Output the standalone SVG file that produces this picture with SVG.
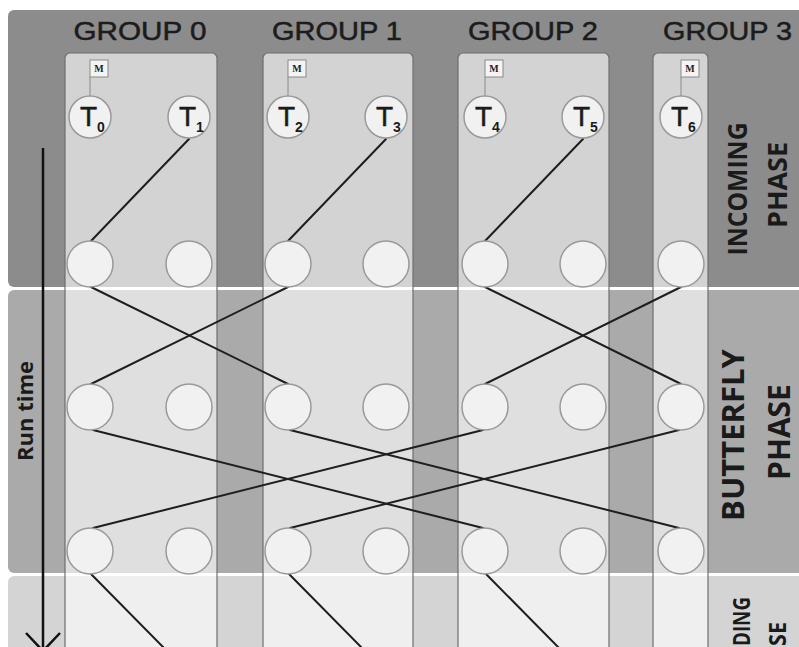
<svg xmlns="http://www.w3.org/2000/svg" width="799" height="647" viewBox="0 0 799 647">
<defs>
<style>
.gbox{fill:#ffffff;fill-opacity:0.62;stroke:#6e6e6e;stroke-width:1.2}
.ghead{font-family:"Liberation Sans",Arial,sans-serif;font-size:25px;fill:#1c1c1c;stroke:#1c1c1c;stroke-width:0.5;text-anchor:middle}
.node{fill:#f1f1f1;stroke:#9a9a9a;stroke-width:1.5}
.tl{font-family:"Liberation Sans",Arial,sans-serif;font-size:28px;fill:#1a1a1a;stroke:#1a1a1a;stroke-width:0.5}
.sub{font-family:"Liberation Sans",Arial,sans-serif;font-size:14px;font-weight:bold;fill:#1a1a1a}
.mbox{fill:#f4f4f4;stroke:#8a8a8a;stroke-width:1}
.mline{stroke:#8a8a8a;stroke-width:1}
.mtxt{font-family:"Liberation Serif",serif;font-size:10px;font-weight:bold;fill:#222;text-anchor:middle}
.edge{stroke:#1e1e1e;stroke-width:2;fill:none;stroke-linecap:round}
.phase{font-family:"Open Sans",sans-serif;font-weight:700;fill:#1a1a1a;text-anchor:middle}
</style>
</defs>
<rect width="799" height="647" fill="#ffffff"/>
<g id="bands">
<rect x="8" y="10" width="820" height="277" rx="6" fill="#8c8c8c"/>
<rect x="8" y="290" width="820" height="283" rx="6" fill="#aaaaaa"/>
<rect x="8" y="576" width="820" height="100" rx="6" fill="#d4d4d4"/>
</g>
<g id="group0">
<rect class="gbox" x="65" y="53" width="152" height="620" rx="5"/>
<text class="ghead" x="140" y="40" textLength="133" lengthAdjust="spacingAndGlyphs">GROUP 0</text>
</g>
<g id="group1">
<rect class="gbox" x="263" y="53" width="150" height="620" rx="5"/>
<text class="ghead" x="337" y="40" textLength="130" lengthAdjust="spacingAndGlyphs">GROUP 1</text>
</g>
<g id="group2">
<rect class="gbox" x="458" y="53" width="151" height="620" rx="5"/>
<text class="ghead" x="533" y="40" textLength="130" lengthAdjust="spacingAndGlyphs">GROUP 2</text>
</g>
<g id="group3">
<rect class="gbox" x="653" y="53" width="55" height="620" rx="5"/>
<text class="ghead" x="727.5" y="40" textLength="129" lengthAdjust="spacingAndGlyphs">GROUP 3</text>
</g>
<g id="labels">
<text class="phase" font-size="26" textLength="133" lengthAdjust="spacingAndGlyphs" transform="translate(747,189) rotate(-90)">INCOMING</text>
<text class="phase" font-size="26" textLength="86" lengthAdjust="spacingAndGlyphs" transform="translate(787,185) rotate(-90)">PHASE</text>
<text class="phase" font-size="31" transform="translate(744,435) rotate(-90)">BUTTERFLY</text>
<text class="phase" font-size="30" transform="translate(790,432) rotate(-90)">PHASE</text>
<text class="phase" font-size="24" textLength="49" lengthAdjust="spacingAndGlyphs" transform="translate(750,621.5) rotate(-90)">DING</text>
<text class="phase" font-size="24" textLength="24" lengthAdjust="spacingAndGlyphs" transform="translate(786,634) rotate(-90)">SE</text>
<text class="phase" font-size="22" transform="translate(33,411) rotate(-90)">Run time</text>
</g>
<g id="runtime-arrow">
<line x1="43" y1="148" x2="43" y2="650" stroke="#111" stroke-width="2.5"/>
<polyline points="26,633 43,651 60,633" fill="none" stroke="#111" stroke-width="2.5"/>
</g>
<g id="connectors">
<line class="edge" x1="189" y1="139" x2="91" y2="241"/>
<line class="edge" x1="386" y1="139" x2="288" y2="241"/>
<line class="edge" x1="583" y1="139" x2="485" y2="241"/>
<line class="edge" x1="91" y1="287" x2="288" y2="384"/>
<line class="edge" x1="288" y1="287" x2="91" y2="384"/>
<line class="edge" x1="485" y1="287" x2="681" y2="384"/>
<line class="edge" x1="681" y1="287" x2="485" y2="384"/>
<line class="edge" x1="93" y1="430" x2="483" y2="528"/>
<line class="edge" x1="290" y1="430" x2="679" y2="528"/>
<line class="edge" x1="483" y1="430" x2="93" y2="528"/>
<line class="edge" x1="679" y1="430" x2="290" y2="528"/>
<line class="edge" x1="91" y1="574" x2="166" y2="650"/>
<line class="edge" x1="289" y1="574" x2="364" y2="650"/>
<line class="edge" x1="486" y1="574" x2="561" y2="650"/>
</g>
<g id="T0"><line class="mline" x1="90" y1="77" x2="90" y2="96"/><rect class="mbox" x="90" y="60" width="18" height="17"/><text class="mtxt" x="99" y="72">M</text><circle class="node" cx="90" cy="117" r="21"/><text class="tl" x="80" y="126">T</text><text class="sub" x="97" y="132">0</text></g>
<g id="T1"><circle class="node" cx="189" cy="117" r="21"/><text class="tl" x="179" y="126">T</text><text class="sub" x="196" y="132">1</text></g>
<g id="T2"><line class="mline" x1="288" y1="77" x2="288" y2="96"/><rect class="mbox" x="288" y="60" width="18" height="17"/><text class="mtxt" x="297" y="72">M</text><circle class="node" cx="288" cy="117" r="21"/><text class="tl" x="278" y="126">T</text><text class="sub" x="295" y="132">2</text></g>
<g id="T3"><circle class="node" cx="386" cy="117" r="21"/><text class="tl" x="376" y="126">T</text><text class="sub" x="393" y="132">3</text></g>
<g id="T4"><line class="mline" x1="485" y1="77" x2="485" y2="96"/><rect class="mbox" x="485" y="60" width="18" height="17"/><text class="mtxt" x="494" y="72">M</text><circle class="node" cx="485" cy="117" r="21"/><text class="tl" x="475" y="126">T</text><text class="sub" x="492" y="132">4</text></g>
<g id="T5"><circle class="node" cx="583" cy="117" r="21"/><text class="tl" x="573" y="126">T</text><text class="sub" x="590" y="132">5</text></g>
<g id="T6"><line class="mline" x1="681" y1="77" x2="681" y2="96"/><rect class="mbox" x="681" y="60" width="18" height="17"/><text class="mtxt" x="690" y="72">M</text><circle class="node" cx="681" cy="117" r="21"/><text class="tl" x="671" y="126">T</text><text class="sub" x="688" y="132">6</text></g>
<g id="row1">
<circle class="node" cx="90" cy="264" r="23"/><circle class="node" cx="189" cy="264" r="23"/>
<circle class="node" cx="288" cy="264" r="23"/><circle class="node" cx="386" cy="264" r="23"/>
<circle class="node" cx="485" cy="264" r="23"/><circle class="node" cx="583" cy="264" r="23"/>
<circle class="node" cx="681" cy="264" r="23"/>
</g>
<g id="row2">
<circle class="node" cx="90" cy="407" r="23"/><circle class="node" cx="189" cy="407" r="23"/>
<circle class="node" cx="288" cy="407" r="23"/><circle class="node" cx="386" cy="407" r="23"/>
<circle class="node" cx="485" cy="407" r="23"/><circle class="node" cx="583" cy="407" r="23"/>
<circle class="node" cx="681" cy="407" r="23"/>
</g>
<g id="row3">
<circle class="node" cx="90" cy="551" r="23"/><circle class="node" cx="189" cy="551" r="23"/>
<circle class="node" cx="288" cy="551" r="23"/><circle class="node" cx="386" cy="551" r="23"/>
<circle class="node" cx="485" cy="551" r="23"/><circle class="node" cx="583" cy="551" r="23"/>
<circle class="node" cx="681" cy="551" r="23"/>
</g>
</svg>
